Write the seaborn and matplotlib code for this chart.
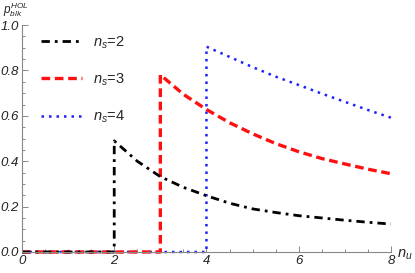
import matplotlib
matplotlib.use("Agg")
import matplotlib.pyplot as plt
import seaborn as sns
import numpy as np

# values: blocking prob. vs n_u for each n_s
x_ns2 = [0, 2, 2, 2.5, 3, 3.5, 4, 4.5, 5, 5.5, 6, 6.5, 7, 7.5, 8]
y_ns2 = [0, 0, 0.49, 0.40, 0.332, 0.285, 0.248, 0.215, 0.19, 0.174, 0.16, 0.15, 0.14, 0.131, 0.123]

x_ns3 = [0, 3, 3, 3.5, 4, 4.5, 5, 5.5, 6, 6.5, 7, 7.5, 8]
y_ns3 = [0, 0, 0.781, 0.695, 0.628, 0.57, 0.521, 0.478, 0.442, 0.412, 0.388, 0.365, 0.345]

x_ns4 = [0, 4, 4, 4.5, 5, 5.5, 6, 6.5, 7, 7.5, 8]
y_ns4 = [0, 0, 0.905, 0.86, 0.815, 0.773, 0.736, 0.698, 0.662, 0.626, 0.592]

labels = [r"$n_s$=2", r"$n_s$=3", r"$n_s$=4"]

sns.set_style("white")
plt.rcParams["font.family"] = ["Liberation Sans", "DejaVu Sans"]
plt.rcParams["mathtext.fontset"] = "custom"
plt.rcParams["mathtext.it"] = "Liberation Sans:italic"
plt.rcParams["mathtext.rm"] = "Liberation Sans"

fig = plt.figure(figsize=(4.15, 2.73), dpi=100)
ax = fig.add_axes([0.053, 0.077, 0.889, 0.831])

sns.lineplot(x=x_ns4, y=y_ns4, ax=ax, color="#2020ff", lw=1.8, linestyle=(0, (1, 2)),
             estimator=None, sort=False, label=labels[2])
sns.lineplot(x=x_ns3, y=y_ns3, ax=ax, color="#ff1010", lw=2.4, linestyle=(0, (2.6, 1.4)),
             estimator=None, sort=False, label=labels[1])
sns.lineplot(x=x_ns2, y=y_ns2, ax=ax, color="black", lw=2.0, linestyle=(0, (3, 1.8, 1, 1.8)),
             estimator=None, sort=False, label=labels[0])
for ln in ax.get_lines():
    ln.set_clip_on(False)

ax.set_xlim(0, 8)
ax.set_ylim(0, 1.0)
ax.set_xticks([0, 2, 4, 6, 8])
ax.set_xticks(np.arange(0, 8.01, 0.5), minor=True)
ax.set_yticks([0, 0.2, 0.4, 0.6, 0.8, 1.0])
ax.set_yticks(np.arange(0, 1.001, 0.05), minor=True)
ax.set_yticklabels(["0.0", "0.2", "0.4", "0.6", "0.8", "1.0"])
for s in ["top", "right"]:
    ax.spines[s].set_visible(False)
for s in ["left", "bottom"]:
    ax.spines[s].set_color("#888888")
    ax.spines[s].set_linewidth(0.8)
ax.tick_params(which="both", direction="in", color="#888888", width=0.7,
               labelsize=9.5, labelcolor="#222222", pad=2)
ax.tick_params(which="major", length=4)
ax.tick_params(which="minor", length=2.5)
ax.tick_params(axis="x", bottom=True, which="both")
ax.tick_params(axis="y", left=True, which="both")
for t in ax.get_xticklabels() + ax.get_yticklabels():
    t.set_fontstyle("italic")

ax.set_xlabel("")
ax.set_ylabel("")
fig.text(0.008, 0.95, r"$p_{blk}^{HOL}$", fontsize=8.5)
fig.text(0.957, 0.055, r"$n_u$", fontsize=10.5)

handles, labs = ax.get_legend_handles_labels()
ax.legend(handles[::-1], labs[::-1], loc="upper left", bbox_to_anchor=(0.016, 1.018),
          frameon=False, fontsize=10.5, handlelength=2.8, labelspacing=1.44,
          handletextpad=0.75)

fig.savefig("out.png", dpi=100)
